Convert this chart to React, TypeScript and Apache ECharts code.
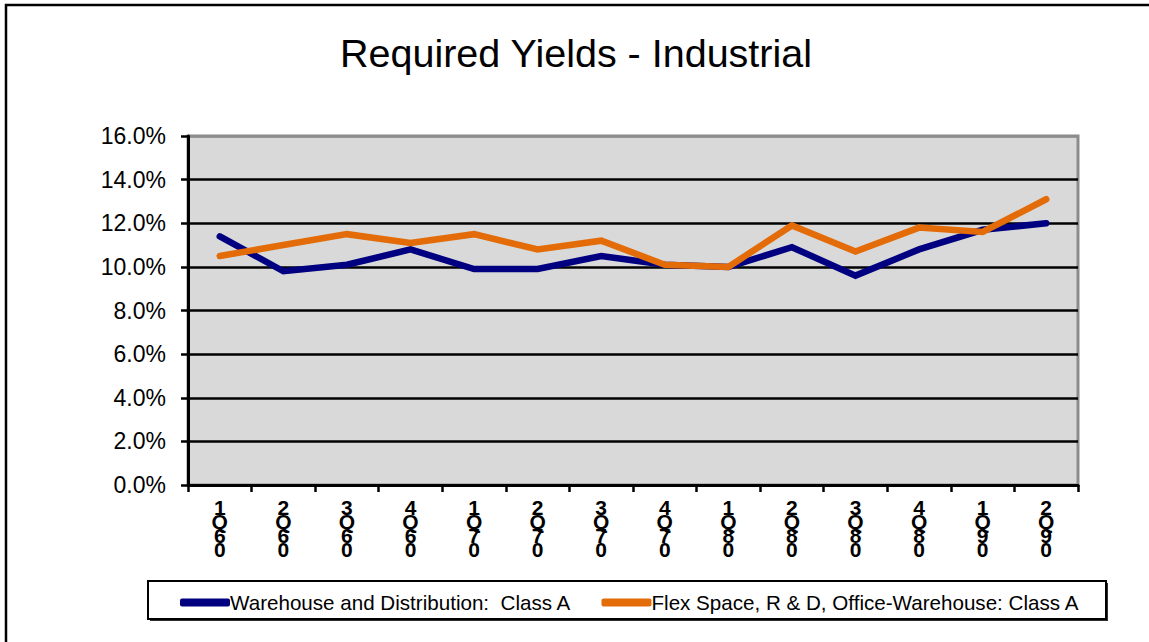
import React, { useEffect, useRef } from "react";
import * as echarts from "echarts";

// Quarter labels: quarter number, "Q", year digit, trailing zero (stacked vertically)
const quarters = ["1", "2", "3", "4", "1", "2", "3", "4", "1", "2", "3", "4", "1", "2"];
const yearDigits = ["6", "6", "6", "6", "7", "7", "7", "7", "8", "8", "8", "8", "9", "9"];
const categories = quarters.map((q, i) => `${q}Q0${yearDigits[i]}`);

// Required yields (%)
const warehouseClassA = [11.4, 9.8, 10.1, 10.8, 9.9, 9.9, 10.5, 10.1, 10.0, 10.9, 9.6, 10.8, 11.7, 12.0];
const flexSpaceClassA = [10.5, 11.0, 11.5, 11.1, 11.5, 10.8, 11.2, 10.1, 10.0, 11.9, 10.7, 11.8, 11.6, 13.1];

const yTicks = [0, 2, 4, 6, 8, 10, 12, 14, 16];

const FONT = "'Liberation Sans', Arial, Helvetica, sans-serif";

export default function App() {
  const ref = useRef<HTMLDivElement>(null);

  useEffect(() => {
    if (!ref.current) return;
    const chart = echarts.init(ref.current, null, { renderer: "svg" });

    const splitColors = yTicks.map((t) => (t === 16 ? "#8c8c8c" : "#000000"));

    chart.setOption({
      animation: false,
      backgroundColor: "#ffffff",
      textStyle: { fontFamily: FONT },
      grid: {
        left: 188,
        top: 136,
        width: 890,
        height: 349,
        show: true,
        backgroundColor: "#d9d9d9",
        borderColor: "#8c8c8c",
        borderWidth: 3,
        outerBoundsMode: "none",
      },
      xAxis: {
        type: "category",
        data: categories,
        boundaryGap: true,
        axisLine: { show: true, lineStyle: { color: "#000", width: 3 } },
        axisTick: { show: true, inside: false, length: 7, alignWithLabel: false, lineStyle: { color: "#000", width: 2.5 } },
        axisLabel: {
          margin: 15,
          interval: 0,
          hideOverlap: false,
          fontFamily: FONT,
          fontSize: 21,
          fontWeight: "bold",
          color: "#000",
          lineHeight: 14,
          formatter: (v: string) => `${v[0]}\nQ\n${v[3]}\n0`,
        },
        splitLine: { show: false },
      },
      yAxis: {
        type: "value",
        min: 0,
        max: 16,
        interval: 2,
        axisLine: { show: true, lineStyle: { color: "#000", width: 3 } },
        axisTick: { show: true, inside: false, length: 7, lineStyle: { color: "#000", width: 2.5 } },
        axisLabel: {
          margin: 22,
          fontFamily: FONT,
          fontSize: 23,
          color: "#000",
          formatter: (v: number) => `${v.toFixed(1)}%`,
        },
        splitLine: { show: true, lineStyle: { color: splitColors, width: 2.5 } },
      },
      legend: {
        left: 175,
        top: 587,
        itemGap: 30,
        itemWidth: 50,
        itemHeight: 8,
        icon: "roundRect",
        textStyle: { fontFamily: FONT, fontSize: 20.6, color: "#000", padding: [0, 0, 0, -5] },
        data: [
          "Warehouse and Distribution:  Class A",
          "Flex Space, R & D, Office-Warehouse: Class A",
        ],
      },
      graphic: [
        {
          type: "rect",
          z: -10,
          shape: { x: 6, y: 5, width: 1200, height: 700 },
          style: { fill: "none", stroke: "#000", lineWidth: 2.5 },
        },
        {
          type: "text",
          x: 576,
          y: 53,
          style: {
            text: "Required Yields - Industrial",
            fontFamily: FONT,
            fontSize: 39.5,
            fill: "#000",
            textAlign: "center",
            textVerticalAlign: "middle",
          },
        },
        {
          type: "rect",
          z: 0,
          shape: { x: 150, y: 583, width: 958, height: 38 },
          style: { fill: "#303030", stroke: "none" },
        },
        {
          type: "rect",
          z: 1,
          shape: { x: 148, y: 581, width: 958, height: 38 },
          style: { fill: "#ffffff", stroke: "#000", lineWidth: 2 },
        },
      ],
      series: [
        {
          name: "Warehouse and Distribution:  Class A",
          type: "line",
          data: warehouseClassA,
          symbol: "none",
          color: "#000080",
          lineStyle: { color: "#000080", width: 6.5, cap: "round", join: "miter" },
          z: 3,
        },
        {
          name: "Flex Space, R & D, Office-Warehouse: Class A",
          type: "line",
          data: flexSpaceClassA,
          symbol: "none",
          color: "#e36c09",
          lineStyle: { color: "#e36c09", width: 6.5, cap: "round", join: "miter" },
          z: 4,
        },
      ],
    });

    return () => chart.dispose();
  }, []);

  return (
    <div
      ref={ref}
      style={{ position: "fixed", left: 0, top: 0, width: 1149, height: 642, background: "#fff" }}
    />
  );
}
